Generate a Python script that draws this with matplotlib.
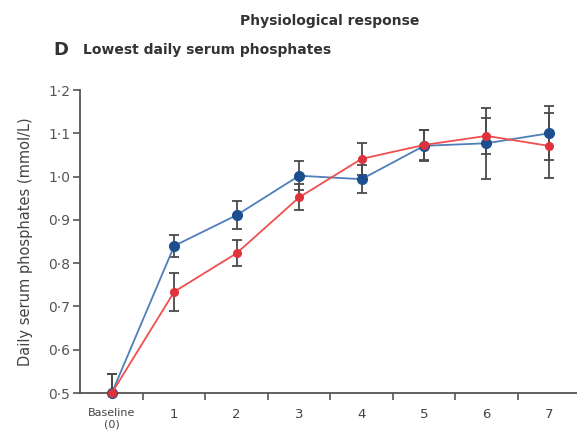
import matplotlib
matplotlib.use("Agg")
import matplotlib.pyplot as plt
import numpy as np

plt.rcParams['font.family'] = ['DejaVu Sans']

days = [0, 1, 2, 3, 4, 5, 6, 7]
day_labels = ["Baseline\n(0)", "1", "2", "3", "4", "5", "6", "7"]
y_ticks = [0.5, 0.6, 0.7, 0.8, 0.9, 1.0, 1.1, 1.2]
y_tick_labels = ["0·5", "0·6", "0·7", "0·8", "0·9", "1·0", "1·1", "1·2"]

blue_mean = [0.50, 0.840, 0.911, 1.002, 0.994, 1.071, 1.077, 1.100]
blue_err = [0.043, 0.026, 0.032, 0.033, 0.033, 0.036, 0.082, 0.062]
red_mean = [0.50, 0.734, 0.823, 0.952, 1.041, 1.073, 1.094, 1.071]
red_err = [0.043, 0.044, 0.030, 0.030, 0.037, 0.035, 0.041, 0.075]

fig = plt.figure(figsize=(5.77, 4.38), dpi=100)
ax = fig.add_axes([0.1386, 0.1027, 0.8614, 0.6918])

ecol = '#4a4a4a'
ax.errorbar(days, blue_mean, yerr=blue_err, fmt='none', ecolor=ecol, elinewidth=1.3,
            capsize=3.5, capthick=1.3, zorder=2)
ax.errorbar(days, red_mean, yerr=red_err, fmt='none', ecolor=ecol, elinewidth=1.3,
            capsize=3.5, capthick=1.3, zorder=2)
ax.plot(days, blue_mean, color='#4f7fb8', lw=1.3, marker='o', ms=7,
        mfc='#1d4f8f', mec='#1d4f8f', zorder=3, clip_on=False)
ax.plot(days, red_mean, color='#ef4f4f', lw=1.3, marker='o', ms=5.5,
        mfc='#e0323c', mec='#e0323c', zorder=4, clip_on=False)

ax.set_xlim(-0.51, 7.45)
ax.set_ylim(0.5, 1.2)
ax.spines['top'].set_visible(False)
ax.spines['right'].set_visible(False)
for s in ['left', 'bottom']:
    ax.spines[s].set_color('#555555')
    ax.spines[s].set_linewidth(1.3)

ax.set_yticks(y_ticks)
ax.set_yticklabels(y_tick_labels, fontsize=10, color='#555555')
ax.tick_params(axis='y', length=5, width=1.2, color='#555555', pad=2)

ax.set_xticks(days)
ax.set_xticklabels(day_labels, fontsize=9.5, color='#444444')
for lbl in ax.get_xticklabels()[:1]:
    lbl.set_fontsize(8)
    lbl.set_linespacing(1.15)
ax.tick_params(axis='x', which='major', length=0, pad=11)
ax.set_xticks([d + 0.5 for d in days[:-1]], minor=True)
ax.tick_params(axis='x', which='minor', length=5, width=1.2, color='#555555')

ax.set_ylabel("Daily serum phosphates (mmol/L)", fontsize=10.5, color='#444444', labelpad=11)

fig.text(0.572, 0.953, "Physiological response", ha='center', va='center',
         fontsize=10, fontweight='bold', color='#333333')
fig.text(0.093, 0.886, "D", ha='left', va='center', fontsize=13, fontweight='bold', color='#333333')
fig.text(0.143, 0.886, "Lowest daily serum phosphates", ha='left', va='center',
         fontsize=10, fontweight='bold', color='#333333')

fig.savefig("out.png", dpi=100)
